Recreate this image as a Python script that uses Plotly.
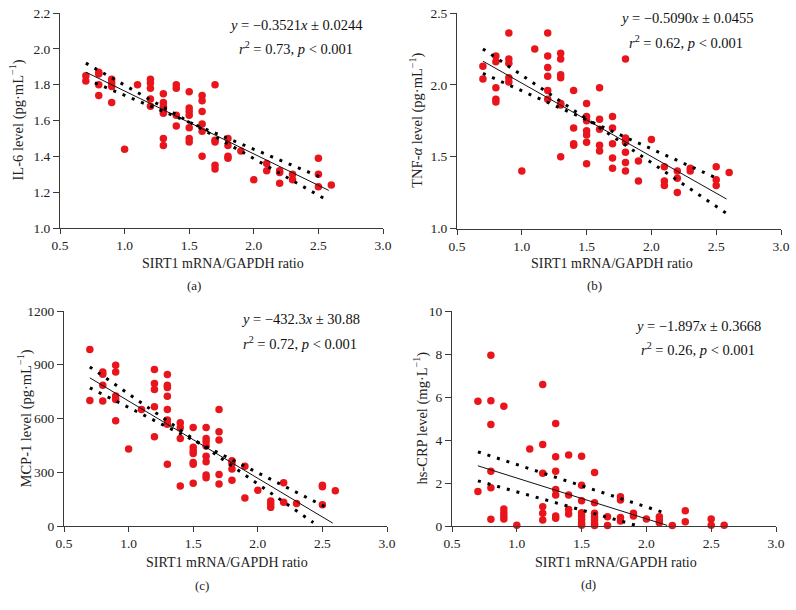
import plotly.graph_objects as go

# ---------------- data ----------------
# (a) IL-6
a_x = [0.7, 0.7, 0.8, 0.8, 0.8, 0.8, 0.9, 0.9, 0.9, 0.9, 1.0, 1.1,
       1.2, 1.2, 1.2, 1.2, 1.2, 1.3, 1.3, 1.3, 1.3, 1.3, 1.3, 1.3,
       1.4, 1.4, 1.4, 1.4, 1.5, 1.5, 1.5, 1.5, 1.5, 1.5, 1.5,
       1.6, 1.6, 1.6, 1.6, 1.6, 1.6, 1.7, 1.7, 1.7, 1.7, 1.7,
       1.8, 1.8, 1.8, 1.8, 1.9, 2.0, 2.1, 2.1, 2.2, 2.2, 2.2, 2.3, 2.3,
       2.5, 2.5, 2.5, 2.6]
a_y = [1.85, 1.82, 1.87, 1.86, 1.80, 1.74, 1.83, 1.81, 1.79, 1.70, 1.44, 1.80,
       1.83, 1.81, 1.78, 1.72, 1.68, 1.75, 1.70, 1.68, 1.66, 1.64, 1.50, 1.46,
       1.80, 1.78, 1.63, 1.57, 1.76, 1.67, 1.65, 1.63, 1.56, 1.50, 1.48,
       1.74, 1.71, 1.65, 1.58, 1.54, 1.40, 1.80, 1.49, 1.48, 1.35, 1.33,
       1.50, 1.46, 1.40, 1.39, 1.43, 1.27, 1.36, 1.32, 1.32, 1.31, 1.25, 1.30, 1.27,
       1.39, 1.30, 1.23, 1.24]
a_fit_x, a_fit_y = [0.7, 2.58], [1.87, 1.21]
a_up_x, a_up_y = [0.7, 2.58], [1.92, 1.15]
a_lo_x, a_lo_y = [0.77, 2.53], [1.81, 1.28]

# (b) TNF-alpha
b_x = [0.7, 0.7, 0.8, 0.8, 0.8, 0.8, 0.8, 0.9, 0.9, 0.9, 0.9, 0.9, 1.0, 1.1,
       1.2, 1.2, 1.2, 1.2, 1.2, 1.2, 1.3, 1.3, 1.3, 1.3, 1.3, 1.3, 1.3,
       1.4, 1.4, 1.4, 1.4, 1.5, 1.5, 1.5, 1.5, 1.5, 1.5, 1.5,
       1.6, 1.6, 1.6, 1.6, 1.6, 1.7, 1.7, 1.7, 1.7, 1.7,
       1.8, 1.8, 1.8, 1.8, 1.8, 1.8, 1.9, 1.9, 2.0, 2.1, 2.1, 2.1,
       2.2, 2.2, 2.2, 2.3, 2.3, 2.5, 2.5, 2.5, 2.6]
b_y = [2.13, 2.04, 2.20, 2.16, 1.98, 1.90, 1.88, 2.36, 2.18, 2.15, 2.05, 2.02, 1.40, 2.25,
       2.36, 2.20, 2.12, 2.06, 1.96, 1.90, 2.22, 2.18, 2.07, 2.05, 1.87, 1.86, 1.50,
       1.96, 1.70, 1.59, 1.58, 1.87, 1.78, 1.75, 1.68, 1.65, 1.60, 1.45,
       1.98, 1.76, 1.69, 1.58, 1.54, 1.78, 1.70, 1.59, 1.49, 1.42,
       2.18, 1.63, 1.60, 1.53, 1.46, 1.40, 1.47, 1.33, 1.62, 1.43, 1.33, 1.30,
       1.40, 1.35, 1.25, 1.42, 1.40, 1.43, 1.34, 1.30, 1.39]
b_fit_x, b_fit_y = [0.7, 2.58], [2.165, 1.205]
b_up_x, b_up_y = [0.7, 2.58], [2.25, 1.105]
b_lo_x, b_lo_y = [0.7, 2.53], [2.08, 1.34]

# (c) MCP-1
c_x = [0.7, 0.7, 0.8, 0.8, 0.8, 0.8, 0.9, 0.9, 0.9, 0.9, 0.9, 1.0, 1.1,
       1.2, 1.2, 1.2, 1.2, 1.2, 1.3, 1.3, 1.3, 1.3, 1.3, 1.3, 1.3, 1.3,
       1.4, 1.4, 1.4, 1.4, 1.5, 1.5, 1.5, 1.5, 1.5, 1.5, 1.5,
       1.6, 1.6, 1.6, 1.6, 1.6, 1.6, 1.6, 1.6, 1.7, 1.7, 1.7, 1.7, 1.7,
       1.8, 1.8, 1.8, 1.8, 1.9, 1.9, 2.0, 2.1, 2.1, 2.1, 2.2, 2.2, 2.3,
       2.5, 2.5, 2.5, 2.6]
c_y = [985, 700, 860, 847, 786, 697, 897, 860, 726, 706, 587, 430, 650,
       873, 795, 762, 665, 498, 845, 786, 773, 724, 650, 591, 568, 345,
       576, 550, 489, 223, 550, 440, 420, 405, 355, 345, 238,
       550, 489, 470, 446, 390, 358, 284, 269, 650, 526, 480, 288, 234,
       364, 349, 318, 256, 334, 156, 200, 139, 123, 104, 241, 132, 126,
       228, 219, 119, 197]
c_fit_x, c_fit_y = [0.7, 2.58], [827, 16]
c_up_x, c_up_y = [0.7, 2.43], [888, 19]
c_lo_x, c_lo_y = [0.7, 2.56], [771, 93]

# (d) hs-CRP
d_x = [0.7, 0.7, 0.8, 0.8, 0.8, 0.8, 0.8, 0.8, 0.9, 0.9, 0.9, 0.9, 0.9, 1.0, 1.1,
       1.2, 1.2, 1.2, 1.2, 1.2, 1.2, 1.3, 1.3, 1.3, 1.3, 1.3, 1.3, 1.3,
       1.4, 1.4, 1.4, 1.4, 1.5, 1.5, 1.5, 1.5, 1.5, 1.5, 1.5, 1.5,
       1.6, 1.6, 1.6, 1.6, 1.6, 1.6, 1.6, 1.7, 1.7, 1.8, 1.8, 1.8, 1.8,
       1.9, 1.9, 2.0, 2.1, 2.1, 2.1, 2.2, 2.3, 2.3, 2.5, 2.5, 2.6]
d_y = [5.80, 1.60, 7.94, 5.82, 4.72, 2.55, 1.78, 0.31, 5.57, 0.79, 0.62, 0.46, 0.33, 0.03, 3.58,
       6.58, 3.79, 2.45, 0.90, 0.59, 0.28, 4.77, 3.22, 2.55, 1.70, 1.44, 0.46, 0.36,
       3.30, 1.44, 0.77, 0.56, 3.25, 1.90, 1.18, 0.62, 0.46, 0.31, 0.15, 0.03,
       2.49, 1.08, 0.59, 0.43, 0.28, 0.12, 0.02, 0.43, 0.02, 1.36, 1.21, 0.40, 0.23,
       0.59, 0.46, 0.33, 0.43, 0.28, 0.15, 0.02, 0.71, 0.20, 0.33, 0.03, 0.03]
d_fit_x, d_fit_y = [0.7, 2.16], [2.80, 0.03]
d_up_x, d_up_y = [0.7, 2.12], [3.45, 0.65]
d_lo_x, d_lo_y = [0.7, 1.92], [2.10, 0.03]

x_ticks = [0.5, 1.0, 1.5, 2.0, 2.5, 3.0]
x_title = "SIRT1 mRNA/GAPDH ratio"

panels = [
    dict(x=a_x, y=a_y, fx=a_fit_x, fy=a_fit_y, ux=a_up_x, uy=a_up_y, lx=a_lo_x, ly=a_lo_y,
         yr=[1.0, 2.2], yt=[1.0, 1.2, 1.4, 1.6, 1.8, 2.0, 2.2], yfmt=".1f",
         ytitle="IL-6 level (pg·mL<sup>−1</sup>)",
         eq1="<i>y</i> = −0.3521<i>x</i> ± 0.0244", eq2="<i>r</i><sup>2</sup> = 0.73, <i>p</i> &lt; 0.001",
         label="(a)"),
    dict(x=b_x, y=b_y, fx=b_fit_x, fy=b_fit_y, ux=b_up_x, uy=b_up_y, lx=b_lo_x, ly=b_lo_y,
         yr=[1.0, 2.5], yt=[1.0, 1.5, 2.0, 2.5], yfmt=".1f",
         ytitle="TNF-<i>α</i> level (pg·mL<sup>−1</sup>)",
         eq1="<i>y</i> = −0.5090<i>x</i> ± 0.0455", eq2="<i>r</i><sup>2</sup> = 0.62, <i>p</i> &lt; 0.001",
         label="(b)"),
    dict(x=c_x, y=c_y, fx=c_fit_x, fy=c_fit_y, ux=c_up_x, uy=c_up_y, lx=c_lo_x, ly=c_lo_y,
         yr=[0, 1200], yt=[0, 300, 600, 900, 1200], yfmt="d",
         ytitle="MCP-1 level (pg·mL<sup>−1</sup>)",
         eq1="<i>y</i> = −432.3<i>x</i> ± 30.88", eq2="<i>r</i><sup>2</sup> = 0.72, <i>p</i> &lt; 0.001",
         label="(c)"),
    dict(x=d_x, y=d_y, fx=d_fit_x, fy=d_fit_y, ux=d_up_x, uy=d_up_y, lx=d_lo_x, ly=d_lo_y,
         yr=[0, 10], yt=[0, 2, 4, 6, 8, 10], yfmt="d",
         ytitle="hs-CRP level (mg·L<sup>−1</sup>)",
         eq1="<i>y</i> = −1.897<i>x</i> ± 0.3668", eq2="<i>r</i><sup>2</sup> = 0.26, <i>p</i> &lt; 0.001",
         label="(d)"),
]

# ---------------- layout geometry (pixels) ----------------
W, H = 796, 610
# plot area: left, right, top, bottom
boxes = [(60, 383, 13, 228), (457, 781, 13, 228.5), (64, 387, 311, 526), (452, 776, 311, 526)]
ytitle_x = [17, 417, 25, 421]
eq_pos = [(296, 25, 48), (686, 18, 42), (300, 319, 343), (698, 326, 349)]
xtitle_pos = [(223, 264), (612, 263), (227, 562), (616, 562)]
label_pos = [(194, 286), (594, 286), (202, 585), (588, 584)]

FONT = "Liberation Serif, Times New Roman, serif"
RED = "#e8161c"
AX = "#3a3a3a"

fig = go.Figure()
layout = dict(width=W, height=H, margin=dict(l=0, r=0, t=0, b=0, autoexpand=False),
              paper_bgcolor="white", plot_bgcolor="white", showlegend=False,
              font=dict(family=FONT, size=13, color="#222"))
annotations = []

def px(xp):
    return xp / W

def py(yp):
    return 1 - yp / H

for i, p in enumerate(panels):
    n = "" if i == 0 else str(i + 1)
    xa, ya = "x" + n, "y" + n
    l, r, t, b = boxes[i]
    layout["xaxis" + n] = dict(domain=[px(l), px(r)], range=[0.5, 3.0], anchor=ya,
                               tickvals=x_ticks, tickformat=".1f", showgrid=False, zeroline=False,
                               showline=True, linecolor=AX, linewidth=1, ticks="outside",
                               ticklen=5, tickcolor=AX, tickfont=dict(size=13.5, color="#222"))
    layout["yaxis" + n] = dict(domain=[py(b), py(t)], range=p["yr"], anchor=xa,
                               tickvals=p["yt"], tickformat=p["yfmt"], showgrid=False, zeroline=False,
                               showline=True, linecolor=AX, linewidth=1, ticks="outside",
                               ticklen=6, tickcolor=AX, tickfont=dict(size=13.5, color="#222"))
    fig.add_trace(go.Scatter(x=p["x"], y=p["y"], mode="markers", xaxis=xa, yaxis=ya,
                             marker=dict(color=RED, size=7.5, line=dict(width=0)), cliponaxis=False))
    fig.add_trace(go.Scatter(x=p["fx"], y=p["fy"], mode="lines", xaxis=xa, yaxis=ya,
                             line=dict(color="#111", width=1)))
    for kx, ky in (("ux", "uy"), ("lx", "ly")):
        fig.add_trace(go.Scatter(x=p[kx], y=p[ky], mode="lines", xaxis=xa, yaxis=ya,
                                 line=dict(color="#000", width=3, dash="3px,7px")))
    # y-axis title
    annotations.append(dict(x=px(ytitle_x[i]), y=py((t + b) / 2), xref="paper", yref="paper",
                            text=p["ytitle"], showarrow=False, textangle=-90,
                            xanchor="center", yanchor="middle", font=dict(size=14.5, color="#222")))
    ex, e1, e2 = eq_pos[i]
    annotations.append(dict(x=px(ex), y=py(e1), xref="paper", yref="paper", text=p["eq1"],
                            showarrow=False, xanchor="center", yanchor="middle",
                            font=dict(size=14.5, color="#111")))
    annotations.append(dict(x=px(ex), y=py(e2), xref="paper", yref="paper", text=p["eq2"],
                            showarrow=False, xanchor="center", yanchor="middle",
                            font=dict(size=14.5, color="#111")))
    tx, ty = xtitle_pos[i]
    annotations.append(dict(x=px(tx), y=py(ty), xref="paper", yref="paper", text=x_title,
                            showarrow=False, xanchor="center", yanchor="middle",
                            font=dict(size=14, color="#222")))
    lx, ly = label_pos[i]
    annotations.append(dict(x=px(lx), y=py(ly), xref="paper", yref="paper", text=p["label"],
                            showarrow=False, xanchor="center", yanchor="middle",
                            font=dict(size=13, color="#222")))

layout["annotations"] = annotations
fig.update_layout(**layout)
fig.write_html("out.html", config={"displayModeBar": False},
               post_script="document.body.style.margin='0';document.body.style.overflow='hidden';")
